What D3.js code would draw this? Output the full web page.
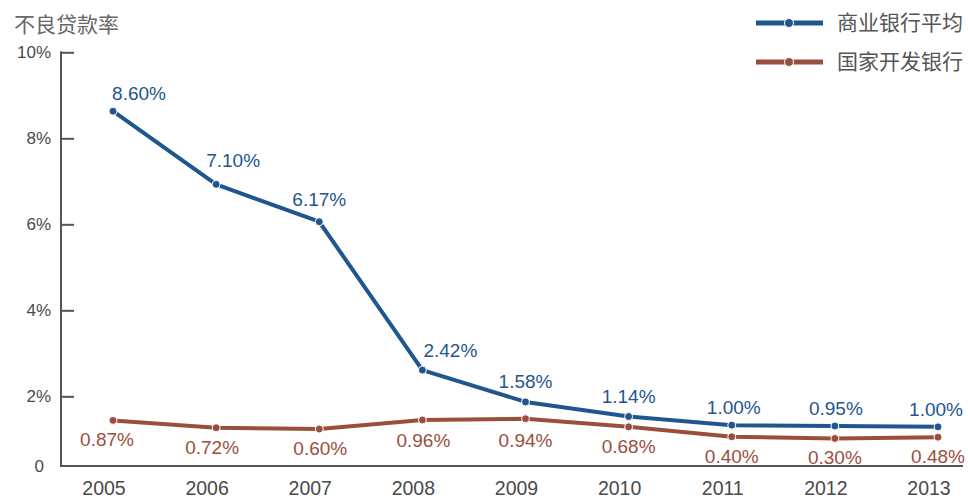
<!DOCTYPE html>
<html>
<head>
<meta charset="utf-8">
<script src="https://cdn.jsdelivr.net/npm/d3@7"></script>
<style>
    body { margin: 0; background: #fff; }
    text { font-family: "Liberation Sans", Arial, sans-serif; }
    .cjk { font-family: "Noto Sans CJK SC", sans-serif; }
</style>
</head>
<body>
<div id="chart"></div>
<script>
// Chart data
const years = ["2005", "2006", "2007", "2008", "2009", "2010", "2011", "2012", "2013"];
const seriesNames = ["商业银行平均", "国家开发银行"];
// plotted positions as drawn in the picture (percent)
const commercialValues = [8.63, 6.93, 6.06, 2.61, 1.87, 1.53, 1.33, 1.31, 1.29];
const cdbValues = [1.44, 1.27, 1.24, 1.45, 1.48, 1.29, 1.06, 1.02, 1.05];
// printed labels
const commercialLabels = ["8.60%", "7.10%", "6.17%", "2.42%", "1.58%", "1.14%", "1.00%", "0.95%", "1.00%"];
const cdbLabels = ["0.87%", "0.72%", "0.60%", "0.96%", "0.94%", "0.68%", "0.40%", "0.30%", "0.48%"];
const yTicks = [2, 4, 6, 8, 10];
const yTitle = "不良贷款率";

const width = 968, height = 500;
const blue = "#1f568e", red = "#9a4f3e", axisColor = "#555", textColor = "#4a4a4a";

// small label nudges [dx, dy] to follow the picture
const blueNudge = [[26, -11], [17, -17], [0, -16], [28, -13], [0, -14], [0, -14], [2, -11], [1, -11], [-2, -11]];
const redNudge = [[-6, 26], [-4, 26], [1, 26], [1, 27], [0, 28], [0, 26], [0, 26], [0, 26], [0, 26]];

const svg = d3.select("#chart")
    .append("svg")
    .attr("width", width)
    .attr("height", height);

const x = d3.scalePoint().domain(years).range([113, 938]);
// axis is broken below 2%: baseline sits at 0.38 and is labelled "0"
const floorValue = 0.38;
const y = d3.scaleLinear().domain([floorValue, 10]).range([466, 52.3]);

// y axis
const yAxis = d3.axisRight(y)
    .tickValues(yTicks)
    .tickSize(13)
    .tickFormat(d => d + "%");
const yg = svg.append("g")
    .attr("transform", "translate(61,0)")
    .call(yAxis);
yg.select(".domain").remove();
yg.selectAll(".tick line").attr("stroke", axisColor).attr("stroke-width", 2);
yg.selectAll(".tick text")
    .attr("x", -10)
    .attr("text-anchor", "end")
    .attr("fill", textColor)
    .attr("font-size", 17);

svg.append("line")
    .attr("x1", 61).attr("x2", 61)
    .attr("y1", y(10) - 1).attr("y2", y(floorValue) + 1)
    .attr("stroke", axisColor).attr("stroke-width", 2);

svg.append("text")
    .attr("x", 44).attr("y", y(floorValue))
    .attr("dy", "0.35em")
    .attr("text-anchor", "end")
    .attr("fill", textColor)
    .attr("font-size", 17)
    .text("0");

// x axis
svg.append("line")
    .attr("x1", 60).attr("x2", 963)
    .attr("y1", y(floorValue)).attr("y2", y(floorValue))
    .attr("stroke", axisColor).attr("stroke-width", 2);

svg.append("g").selectAll("text")
    .data(years)
    .enter()
    .append("text")
    .attr("x", d => x(d) - 9)
    .attr("y", 495)
    .attr("text-anchor", "middle")
    .attr("fill", textColor)
    .attr("font-size", 19.5)
    .text(d => d);

// title
svg.append("text")
    .attr("class", "cjk")
    .attr("x", 14).attr("y", 32)
    .attr("fill", "#666")
    .attr("font-size", 21)
    .text(yTitle);

const line = d3.line()
    .x((d, i) => x(years[i]))
    .y(d => y(d));

const series = [
    { values: cdbValues, labels: cdbLabels, color: red, nudge: redNudge },
    { values: commercialValues, labels: commercialLabels, color: blue, nudge: blueNudge }
];

series.forEach(s => {
    svg.append("path")
        .datum(s.values)
        .attr("d", line)
        .attr("fill", "none")
        .attr("stroke", s.color)
        .attr("stroke-width", 4)
        .attr("stroke-linejoin", "round");

    svg.append("g").selectAll("circle")
        .data(s.values)
        .enter()
        .append("circle")
        .attr("cx", (d, i) => x(years[i]))
        .attr("cy", d => y(d))
        .attr("r", 4)
        .attr("fill", s.color)
        .attr("stroke", "#fff")
        .attr("stroke-width", 1);

    svg.append("g").selectAll("text")
        .data(s.values)
        .enter()
        .append("text")
        .attr("x", (d, i) => x(years[i]) + s.nudge[i][0])
        .attr("y", (d, i) => y(d) + s.nudge[i][1])
        .attr("text-anchor", "middle")
        .attr("fill", s.color)
        .attr("font-size", 19)
        .text((d, i) => s.labels[i]);
});

// legend
const legend = svg.append("g");
[blue, red].forEach((c, i) => {
    const ly = 23 + i * 39;
    legend.append("line")
        .attr("x1", 756).attr("x2", 823)
        .attr("y1", ly).attr("y2", ly)
        .attr("stroke", c).attr("stroke-width", 5);
    legend.append("circle")
        .attr("cx", 789).attr("cy", ly).attr("r", 4.5)
        .attr("fill", c).attr("stroke", "#fff").attr("stroke-width", 1);
    legend.append("text")
        .attr("class", "cjk")
        .attr("x", 837).attr("y", ly)
        .attr("dy", "0.35em")
        .attr("fill", "#555")
        .attr("font-size", 21)
        .text(seriesNames[i]);
});
</script>
</body>
</html>
